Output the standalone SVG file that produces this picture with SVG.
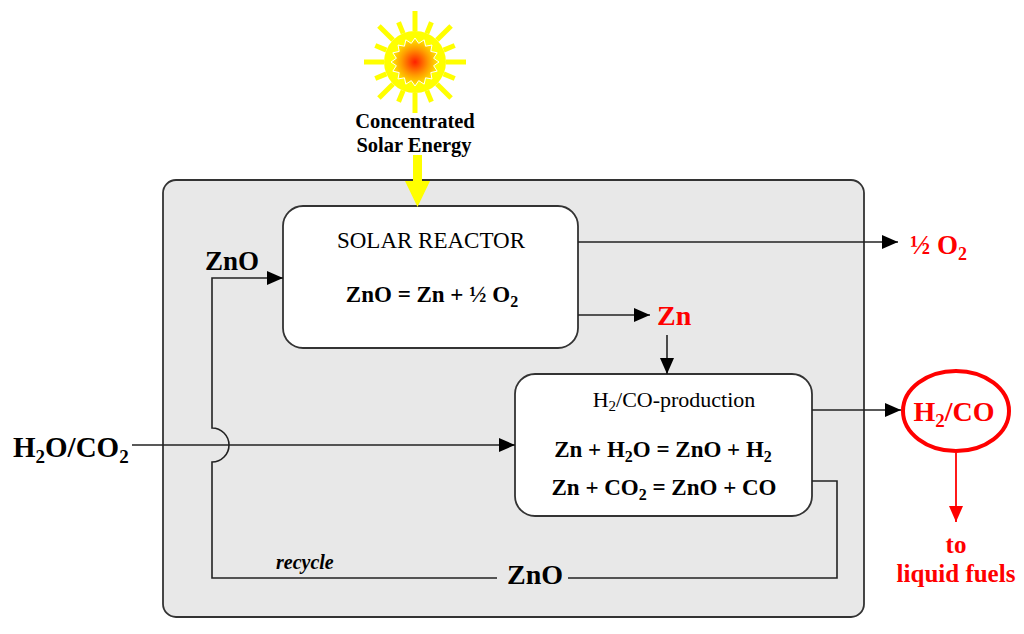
<svg xmlns="http://www.w3.org/2000/svg" width="1024" height="634" viewBox="0 0 1024 634" font-family="'Liberation Serif', 'DejaVu Serif', 'Noto Serif', serif">
<defs>
<radialGradient id="sunG" cx="50%" cy="50%" r="50%">
<stop offset="0" stop-color="#ff2000"/>
<stop offset="0.55" stop-color="#ff9a00"/>
<stop offset="1" stop-color="#ffee00"/>
</radialGradient>
<marker id="ah" markerWidth="16" markerHeight="14" refX="16" refY="7" orient="auto" markerUnits="userSpaceOnUse">
<path d="M0,0 L16,7 L0,14 z" fill="#000"/>
</marker>
<marker id="ahr" markerWidth="16" markerHeight="14" refX="16" refY="7" orient="auto" markerUnits="userSpaceOnUse">
<path d="M0,0 L16,7 L0,14 z" fill="#ff0000"/>
</marker>
</defs>
<style>
text{font-family:'Liberation Serif','DejaVu Serif','Noto Serif',serif;fill:#000}
.b{font-weight:bold}
.r{fill:#ff0000}
.ln{fill:none;stroke:#222;stroke-width:1.6}
.box{fill:#fff;stroke:#333;stroke-width:1.8}
.ray{stroke:#ffff00;stroke-width:5}
</style>
<rect id="outer" x="163" y="180" width="701" height="437" rx="13" fill="#e8e8e8" stroke="#333" stroke-width="1.8"/>

<g id="sun" transform="translate(415,62)">
<g class="ray">
<line x1="0" y1="-31" x2="0" y2="-51"/>
<line x1="0" y1="-31" x2="0" y2="-43" transform="rotate(22.5)"/>
<line x1="0" y1="-31" x2="0" y2="-51" transform="rotate(45)"/>
<line x1="0" y1="-31" x2="0" y2="-43" transform="rotate(67.5)"/>
<line x1="0" y1="-31" x2="0" y2="-51" transform="rotate(90)"/>
<line x1="0" y1="-31" x2="0" y2="-43" transform="rotate(112.5)"/>
<line x1="0" y1="-31" x2="0" y2="-51" transform="rotate(135)"/>
<line x1="0" y1="-31" x2="0" y2="-43" transform="rotate(157.5)"/>
<line x1="0" y1="-31" x2="0" y2="-51" transform="rotate(180)"/>
<line x1="0" y1="-31" x2="0" y2="-43" transform="rotate(202.5)"/>
<line x1="0" y1="-31" x2="0" y2="-51" transform="rotate(225)"/>
<line x1="0" y1="-31" x2="0" y2="-43" transform="rotate(247.5)"/>
<line x1="0" y1="-31" x2="0" y2="-51" transform="rotate(270)"/>
<line x1="0" y1="-31" x2="0" y2="-43" transform="rotate(292.5)"/>
<line x1="0" y1="-31" x2="0" y2="-51" transform="rotate(315)"/>
<line x1="0" y1="-31" x2="0" y2="-43" transform="rotate(337.5)"/>
</g>
<circle r="31" fill="#ffff00"/>
<polygon fill="url(#sunG)" stroke="#fff" stroke-width="1" points="24,0 18.64,3.71 22.17,9.18 15.80,10.56 16.97,16.97 10.56,15.80 9.18,22.17 3.71,18.64 0,24 -3.71,18.64 -9.18,22.17 -10.56,15.80 -16.97,16.97 -15.80,10.56 -22.17,9.18 -18.64,3.71 -24,0 -18.64,-3.71 -22.17,-9.18 -15.80,-10.56 -16.97,-16.97 -10.56,-15.80 -9.18,-22.17 -3.71,-18.64 0,-24 3.71,-18.64 9.18,-22.17 10.56,-15.80 16.97,-16.97 15.80,-10.56 22.17,-9.18 18.64,-3.71"/>
</g>

<g id="solar-label">
<text class="b" x="415" y="128" font-size="20.5" text-anchor="middle">Concentrated</text>
<text class="b" x="414" y="152" font-size="20.5" text-anchor="middle">Solar Energy</text>
</g>

<g id="solar-reactor">
<rect class="box" x="283" y="206" width="295" height="142" rx="20"/>
<text x="431" y="248" font-size="23" text-anchor="middle">SOLAR REACTOR</text>
<text class="b" x="432" y="302" font-size="23" text-anchor="middle">ZnO = Zn + ½ O<tspan font-size="16" dy="5">2</tspan></text>
</g>

<g id="h2co-production">
<rect class="box" x="515" y="374" width="297" height="142" rx="20"/>
<text x="674" y="407" font-size="22" text-anchor="middle">H<tspan font-size="15" dy="4">2</tspan><tspan dy="-4">/CO-production</tspan></text>
<text class="b" x="663" y="457" font-size="23" text-anchor="middle">Zn + H<tspan font-size="16" dy="5">2</tspan><tspan dy="-5">O = ZnO + H</tspan><tspan font-size="16" dy="5">2</tspan></text>
<text class="b" x="664" y="495" font-size="23" text-anchor="middle">Zn + CO<tspan font-size="16" dy="5">2</tspan><tspan dy="-5"> = ZnO + CO</tspan></text>
</g>

<g id="connectors">
<polygon fill="#ffff00" points="413,155 422,155 422,181 430,181 417.5,207 405,181 413,181"/>
<path class="ln" d="M812,481 H837 V578 H568"/>
<path class="ln" d="M497,578 H212 V462 A17,17 0 0 0 212,428 V278 H283" marker-end="url(#ah)"/>
<path class="ln" d="M132,445 H515" marker-end="url(#ah)"/>
<path class="ln" d="M578,242 H898" marker-end="url(#ah)"/>
<path class="ln" d="M578,315 H650" marker-end="url(#ah)"/>
<path class="ln" d="M667,335 V374" marker-end="url(#ah)"/>
<path class="ln" d="M812,410 H901" marker-end="url(#ah)"/>
<path fill="none" stroke="#ff0000" stroke-width="1.8" d="M956,453 V522" marker-end="url(#ahr)"/>
</g>

<g id="labels">
<text class="b" x="232" y="270" font-size="27" text-anchor="middle">ZnO</text>
<text class="b" x="13" y="457" font-size="29">H<tspan font-size="19" dy="6">2</tspan><tspan dy="-6">O/CO</tspan><tspan font-size="19" dy="6">2</tspan></text>
<text class="b" x="276" y="569" font-size="20" font-style="italic">recycle</text>
<text class="b" x="535" y="584" font-size="28" text-anchor="middle">ZnO</text>
<text class="b r" x="910" y="254" font-size="27">½ O<tspan font-size="18" dy="6">2</tspan></text>
<text class="b r" x="657" y="325" font-size="28">Zn</text>
</g>

<g id="h2co-output">
<ellipse cx="956" cy="411" rx="53" ry="40" fill="none" stroke="#ff0000" stroke-width="4"/>
<text class="b r" x="954" y="421" font-size="28" text-anchor="middle">H<tspan font-size="19" dy="6">2</tspan><tspan dy="-6">/CO</tspan></text>
</g>

<g id="fuels-label">
<text class="b r" x="956" y="553" font-size="25" text-anchor="middle">to</text>
<text class="b r" x="956" y="582" font-size="25" text-anchor="middle">liquid fuels</text>
</g>
</svg>
